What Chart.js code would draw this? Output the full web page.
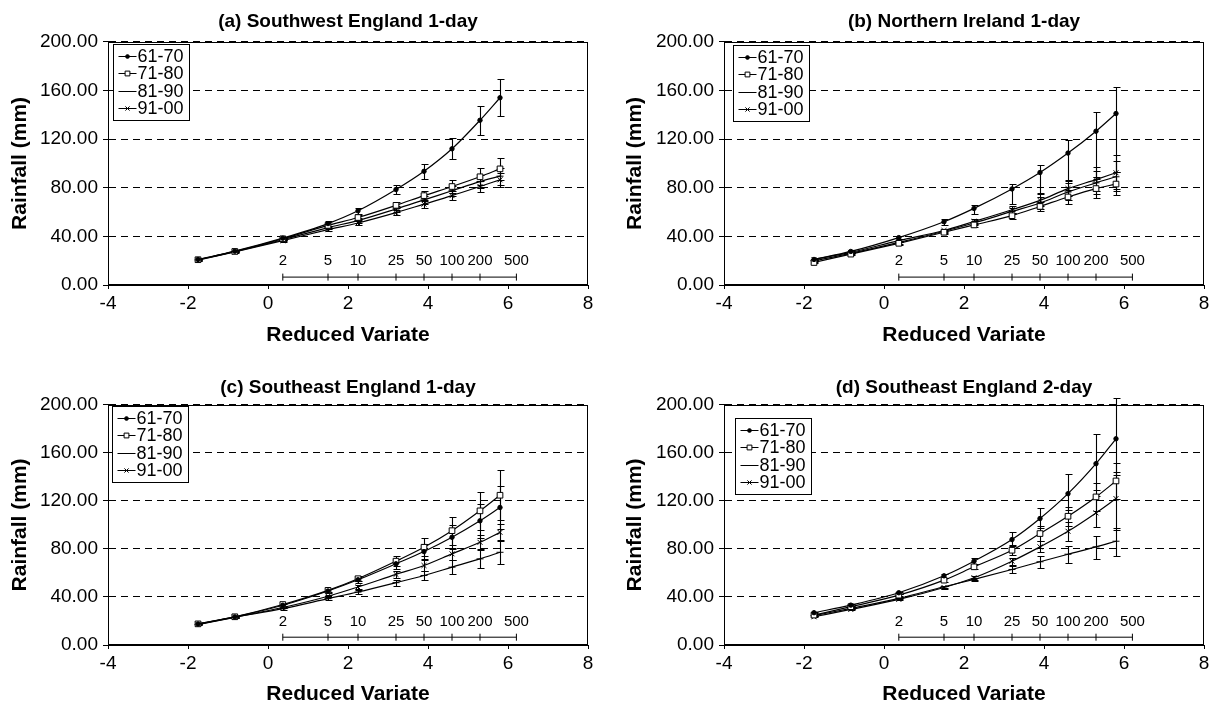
<!DOCTYPE html>
<html lang="en">
<head>
<meta charset="UTF-8">
<title>Rainfall vs reduced variate</title>
<script src="https://cdn.jsdelivr.net/npm/chart.js"></script>
<style>
  body { margin: 0; background: #fff; }
  .panel { position: absolute; }
</style>
</head>
<body>
<div class="panel" style="left:0;top:0"><canvas id="chartA" width="607" height="352"></canvas></div>
<div class="panel" style="left:607px;top:0"><canvas id="chartB" width="607" height="352"></canvas></div>
<div class="panel" style="left:0;top:352px"><canvas id="chartC" width="607" height="353"></canvas></div>
<div class="panel" style="left:607px;top:352px"><canvas id="chartD" width="607" height="353"></canvas></div>

<script>
// decades and plotting positions (Gumbel reduced variate)
const periods = ['61-70', '71-80', '81-90', '91-00'];
const reducedVariate = [-1.75, -0.83, 0.37, 1.50, 2.25, 3.20, 3.90, 4.60, 5.30, 5.80];

// return period scale drawn inside each plot
const returnPeriods = ['2', '5', '10', '25', '50', '100', '200', '500'];
const returnPeriodX = [0.37, 1.50, 2.25, 3.20, 3.90, 4.60, 5.30, 6.21];

// (a) Southwest England 1-day
const rainA = [
  [21.0, 27.8, 38.5, 50.5, 61.0, 78.5, 93.5, 112.0, 135.5, 154.0],
  [20.8, 27.6, 38.0, 49.0, 55.5, 65.5, 73.5, 81.0, 89.0, 95.5],
  [20.6, 27.4, 37.2, 47.2, 53.0, 62.5, 70.0, 77.5, 85.0, 89.5],
  [20.4, 27.2, 36.5, 45.5, 51.0, 59.5, 66.5, 73.5, 81.0, 86.5]
];
const errUpA = [
  [0.5, 0.8, 1.2, 1.8, 2.5, 3.5, 6.0, 8.5, 12.0, 15.0],
  [0.5, 0.6, 1.0, 1.3, 1.8, 2.5, 3.5, 5.0, 7.0, 9.0],
  [0.5, 0.6, 1.0, 1.2, 1.7, 2.3, 3.0, 4.0, 5.5, 7.0],
  [0.5, 0.6, 0.9, 1.1, 1.5, 2.0, 2.8, 3.5, 4.5, 6.0]
];
const errDownA = errUpA;

// (b) Northern Ireland 1-day
const rainB = [
  [21.0, 27.6, 39.0, 52.0, 63.0, 79.0, 92.5, 108.5, 126.5, 141.0],
  [18.5, 25.4, 34.3, 43.4, 49.4, 57.0, 64.6, 72.4, 79.3, 83.0],
  [20.0, 26.0, 35.0, 44.2, 51.0, 60.5, 67.4, 76.5, 84.0, 89.0],
  [21.0, 26.8, 36.5, 44.8, 52.2, 61.9, 69.6, 79.3, 86.7, 92.3]
];
const errUpB = [
  [0.6, 0.9, 1.5, 2.0, 3.0, 4.0, 6.5, 10.5, 16.0, 22.0],
  [0.5, 0.6, 1.0, 1.2, 1.6, 2.5, 4.0, 6.0, 8.0, 10.0],
  [0.5, 0.6, 1.0, 1.2, 1.6, 2.8, 5.0, 7.5, 10.0, 13.0],
  [0.5, 0.6, 1.0, 1.2, 1.8, 3.0, 5.5, 7.0, 10.5, 14.5]
];
const errDownB = [
  [0.6, 0.9, 1.5, 2.5, 5.0, 12.0, 17.0, 23.0, 38.0, 48.0],
  [0.5, 0.6, 1.0, 1.2, 1.6, 2.5, 4.0, 5.5, 7.5, 9.0],
  [0.5, 0.6, 1.0, 1.2, 1.6, 2.5, 4.5, 7.0, 9.0, 12.0],
  [0.5, 0.6, 1.0, 1.2, 1.8, 2.8, 5.0, 6.5, 9.0, 13.0]
];

// (c) Southeast England 1-day
const rainC = [
  [17.5, 23.4, 33.1, 45.0, 54.3, 67.6, 77.8, 89.7, 103.4, 114.5],
  [17.6, 23.5, 33.7, 45.5, 55.2, 69.8, 81.4, 95.2, 111.7, 124.7],
  [17.0, 23.0, 30.3, 38.6, 44.1, 51.9, 57.9, 64.8, 71.7, 77.2],
  [17.2, 23.2, 31.2, 40.6, 48.3, 58.8, 66.2, 75.9, 85.5, 93.8]
];
const errUpC = [
  [0.4, 0.6, 1.0, 1.5, 2.5, 4.0, 6.5, 10.0, 14.0, 18.0],
  [0.4, 0.6, 1.0, 1.5, 2.0, 4.0, 7.4, 11.6, 16.0, 21.0],
  [0.4, 0.5, 0.8, 1.0, 1.5, 2.5, 4.0, 6.0, 8.0, 10.0],
  [0.4, 0.5, 0.8, 1.0, 1.8, 3.0, 4.5, 5.0, 6.0, 7.0]
];
const errDownC = errUpC;

// (d) Southeast England 2-day
const rainD = [
  [26.9, 33.2, 43.5, 57.6, 69.8, 87.8, 105.3, 126.0, 151.0, 171.7],
  [24.9, 31.9, 41.5, 54.0, 65.1, 78.9, 92.8, 107.2, 123.3, 136.6],
  [24.4, 30.5, 38.8, 48.5, 54.6, 62.9, 69.3, 75.6, 81.7, 86.4],
  [23.5, 29.6, 38.0, 47.9, 56.0, 69.8, 81.7, 94.7, 110.0, 121.9]
];
const errUpD = [
  [0.6, 0.8, 1.0, 1.5, 2.5, 6.0, 9.0, 16.0, 25.0, 34.0],
  [0.5, 0.7, 1.0, 1.5, 2.0, 4.0, 6.0, 8.0, 12.0, 15.0],
  [0.5, 0.6, 0.8, 1.0, 1.5, 3.0, 5.0, 7.0, 9.0, 11.0],
  [0.5, 0.6, 0.8, 1.0, 1.5, 3.0, 4.5, 8.0, 14.0, 22.0]
];
const errDownD = [
  [0.6, 0.8, 1.0, 1.5, 2.5, 5.0, 8.0, 14.0, 22.0, 30.0],
  [0.5, 0.7, 1.0, 1.5, 2.0, 4.0, 6.0, 8.0, 12.0, 15.0],
  [0.5, 0.6, 0.8, 1.0, 1.5, 3.0, 5.0, 7.0, 10.0, 12.0],
  [0.5, 0.6, 0.8, 1.0, 1.5, 3.0, 4.5, 8.0, 12.0, 26.0]
];

const FONT = "'Liberation Sans', Arial, Helvetica, sans-serif";
Chart.defaults.font.family = FONT;
Chart.defaults.color = '#000';
Chart.defaults.animation = false;

// marker look per decade
const markers = [
  { pointStyle: 'circle',   radius: 2.2, fill: '#000' },
  { pointStyle: 'rect',     radius: 4,   fill: '#fff' },
  { pointStyle: 'line',     radius: 3.5, fill: '#000' },
  { pointStyle: 'crossRot', radius: 3.5, fill: '#000' }
];

// vertical error bars with caps, drawn under the markers
const errorBars = {
  id: 'errorBars',
  beforeDatasetsDraw(chart) {
    const { ctx, scales: { x, y } } = chart;
    ctx.save();
    ctx.strokeStyle = '#000';
    ctx.lineWidth = 1.1;
    chart.data.datasets.forEach(ds => {
      if (!ds.errUp) return;
      ds.data.forEach((pt, j) => {
        const px = Math.round(x.getPixelForValue(pt.x)) + 0.5;
        const top = Math.round(y.getPixelForValue(pt.y + ds.errUp[j])) + 0.5;
        const bot = Math.round(y.getPixelForValue(pt.y - ds.errDown[j])) + 0.5;
        ctx.beginPath();
        ctx.moveTo(px, top); ctx.lineTo(px, bot);
        ctx.moveTo(px - 3, top); ctx.lineTo(px + 4, top);
        ctx.moveTo(px - 3, bot); ctx.lineTo(px + 4, bot);
        ctx.stroke();
      });
    });
    ctx.restore();
  }
};

// plot frame, return period labels and the boxed legend inside the plot
const frameAndLegend = {
  id: 'frameAndLegend',
  afterDatasetsDraw(chart, args, opts) {
    const { ctx, chartArea: a, scales: { x, y } } = chart;
    ctx.save();
    ctx.strokeStyle = '#000';
    ctx.lineWidth = 1;
    ctx.strokeRect(Math.round(a.left) + 0.5, Math.round(a.top) + 0.5,
                   Math.round(a.width) - 1, Math.round(a.height) - 1);

    ctx.fillStyle = '#000';
    ctx.font = '15px ' + FONT;
    ctx.textAlign = 'center';
    ctx.textBaseline = 'middle';
    returnPeriods.forEach((t, i) => {
      ctx.fillText(t, x.getPixelForValue(returnPeriodX[i]), y.getPixelForValue(19.5));
    });

    const bx = Math.round(a.left + opts.dx) + 0.5;
    const by = Math.round(a.top + opts.dy) + 0.5;
    ctx.fillStyle = '#fff';
    ctx.fillRect(bx, by, 76, 76);
    ctx.strokeRect(bx, by, 76, 76);
    ctx.font = '18px ' + FONT;
    ctx.textAlign = 'left';
    periods.forEach((p, i) => {
      const ry = Math.round(by + 11 + i * 17.6) + 0.5;
      ctx.strokeStyle = '#000';
      ctx.beginPath();
      ctx.moveTo(bx + 5, ry); ctx.lineTo(bx + 23, ry);
      ctx.stroke();
      ctx.fillStyle = markers[i].fill;
      Chart.helpers.drawPoint(ctx, {
        pointStyle: markers[i].pointStyle, radius: markers[i].radius * 0.85,
        rotation: 0, borderWidth: 1
      }, bx + 14, ry);
      ctx.fillStyle = '#000';
      ctx.fillText(p, bx + 24, ry + 1);
    });
    ctx.restore();
  }
};

function buildPanel(id, title, rain, errUp, errDown, lay) {
  const datasets = periods.map((p, i) => ({
    label: p,
    data: reducedVariate.map((x, j) => ({ x: x, y: rain[i][j] })),
    errUp: errUp[i],
    errDown: errDown[i],
    borderColor: '#000',
    borderWidth: 1.2,
    pointStyle: markers[i].pointStyle,
    pointRadius: markers[i].radius,
    pointBorderColor: '#000',
    pointBorderWidth: 1,
    pointBackgroundColor: markers[i].fill,
    cubicInterpolationMode: 'monotone',
    clip: false
  }));
  datasets.push({
    label: 'T',
    data: returnPeriodX.map(x => ({ x: x, y: 6.5 })),
    borderColor: '#000',
    borderWidth: 1,
    pointStyle: 'line',
    pointRotation: 90,
    pointRadius: 3.5,
    pointBorderColor: '#000',
    pointBorderWidth: 1,
    tension: 0
  });

  new Chart(document.getElementById(id), {
    type: 'line',
    data: { datasets: datasets },
    options: {
      responsive: false,
      layout: { padding: { left: 0, right: lay.padRight, top: 0, bottom: 0 } },
      plugins: {
        legend: { display: false },
        tooltip: { enabled: false },
        title: {
          display: true, text: title, fullSize: false, color: '#000',
          font: { size: 19, weight: 'bold' },
          padding: lay.titlePad
        },
        frameAndLegend: { dx: lay.legendDx, dy: lay.legendDy }
      },
      scales: {
        x: {
          type: 'linear', min: -4, max: 8,
          ticks: { stepSize: 2, font: { size: 19 }, padding: 3, color: '#000' },
          grid: { drawOnChartArea: false, drawTicks: true, tickLength: 4, color: '#000' },
          border: { display: true, color: '#000', width: 1 },
          title: {
            display: true, text: 'Reduced Variate', color: '#000',
            font: { size: 21, weight: 'bold', lineHeight: 1 },
            padding: { top: 0, bottom: lay.xTitlePad }
          },
          afterFit: s => { s.height = lay.xAxisHeight; }
        },
        y: {
          min: 0, max: 200,
          ticks: {
            stepSize: 40, font: { size: 19 }, padding: 5, color: '#000',
            callback: v => v.toFixed(2)
          },
          grid: { color: '#000', lineWidth: 1, tickLength: 5 },
          border: { display: true, color: '#000', width: 1, dash: [7, 5] },
          title: {
            display: true, text: 'Rainfall (mm)', color: '#000',
            font: { size: 21, weight: 'bold', lineHeight: 1 },
            padding: { top: lay.yTitlePad, bottom: 0 }
          },
          afterFit: s => { s.width = lay.yAxisWidth; }
        }
      }
    },
    plugins: [errorBars, frameAndLegend]
  });
}

const topLeft = { padRight: 19, yAxisWidth: 108, yTitlePad: 10, titlePad: { top: 10, bottom: 9 }, xAxisHeight: 67, xTitlePad: 6, legendDx: 5, legendDy: 2 };
const topRight = { padRight: 10, yAxisWidth: 117, yTitlePad: 18, titlePad: { top: 10, bottom: 9 }, xAxisHeight: 67, xTitlePad: 6, legendDx: 9, legendDy: 3 };
const botLeft = { padRight: 19, yAxisWidth: 108, yTitlePad: 10, titlePad: { top: 24, bottom: 6 }, xAxisHeight: 60, xTitlePad: 0, legendDx: 4, legendDy: 1 };
const botRight = { padRight: 10, yAxisWidth: 117, yTitlePad: 18, titlePad: { top: 24, bottom: 6 }, xAxisHeight: 60, xTitlePad: 0, legendDx: 11, legendDy: 13 };

buildPanel('chartA', '(a) Southwest England 1-day', rainA, errUpA, errDownA, topLeft);
buildPanel('chartB', '(b) Northern Ireland 1-day', rainB, errUpB, errDownB, topRight);
buildPanel('chartC', '(c) Southeast England 1-day', rainC, errUpC, errDownC, botLeft);
buildPanel('chartD', '(d) Southeast England 2-day', rainD, errUpD, errDownD, botRight);
</script>
</body>
</html>
